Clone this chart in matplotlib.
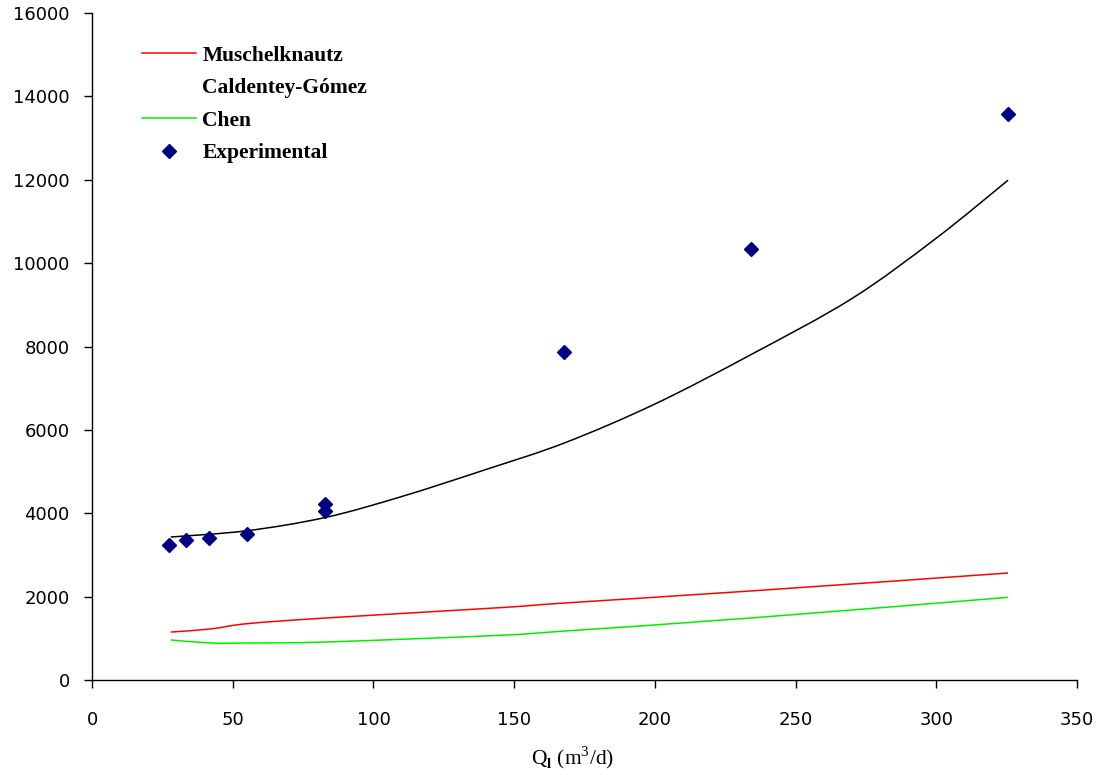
import numpy as np
import matplotlib
matplotlib.use("Agg")
import matplotlib.pyplot as plt
from matplotlib.path import Path
from matplotlib.patches import PathPatch
from matplotlib.lines import Line2D

plt.rcParams["mathtext.fontset"] = "custom"
plt.rcParams["mathtext.rm"] = "Liberation Serif"
plt.rcParams["mathtext.bf"] = "Liberation Serif:bold"

# Experimental data
q_exp = [27.4, 33.4, 41.6, 55.1, 82.8, 82.8, 167.7, 234.2, 325.5]
dp_exp = [3230, 3360, 3400, 3500, 4220, 4060, 7870, 10340, 13580]

# Caldentey-Gómez model
q_cg = [28, 55, 83, 110, 140, 168, 200, 234, 270, 300, 325.5]
dp_cg = [3430, 3580, 3900, 4400, 5050, 5690, 6620, 7800, 9150, 10600, 11990]

# Muschelknautz model
q_mu = [28, 42, 55, 83, 145, 168, 234, 325.5]
dp_mu = [1150, 1223, 1350, 1487, 1735, 1847, 2135, 2566]

# Chen model
q_ch = [28, 42, 55, 83, 145, 168, 234, 325.5]
dp_ch = [960, 888, 888, 911, 1072, 1175, 1487, 1983]


def smooth_path(x, y):
    x = np.asarray(x, float); y = np.asarray(y, float)
    pts = np.column_stack([x, y])
    verts = [pts[0]]
    codes = [Path.MOVETO]
    n = len(pts)
    for i in range(n - 1):
        p0 = pts[i - 1] if i > 0 else pts[i]
        p1 = pts[i]
        p2 = pts[i + 1]
        p3 = pts[i + 2] if i + 2 < n else pts[i + 1]
        c1 = p1 + (p2 - p0) / 6.0
        c2 = p2 - (p3 - p1) / 6.0
        verts += [c1, c2, p2]
        codes += [Path.CURVE4] * 3
    return Path(verts, codes)


fig = plt.figure(figsize=(11.06, 7.75), dpi=100)
ax = fig.add_axes([0.0832, 0.1226, 0.8906, 0.8606])

for qx, dy, col in [(q_mu, dp_mu, "#ff0000"), (q_cg, dp_cg, "#000000"), (q_ch, dp_ch, "#00ee00")]:
    ax.add_patch(PathPatch(smooth_path(qx, dy), facecolor="none", edgecolor=col, lw=1.1))

ax.plot(q_exp, dp_exp, linestyle="none", marker="D", markersize=7.5,
        color="#000080", markeredgecolor="#000080")

ax.set_xlim(0, 350)
ax.set_ylim(0, 16000)
ax.set_xticks(np.arange(0, 351, 50))
ax.set_yticks(np.arange(0, 16001, 2000))
for s in ["top", "right"]:
    ax.spines[s].set_visible(False)
for s in ["left", "bottom"]:
    ax.spines[s].set_linewidth(1.0)
ax.tick_params(direction="out", length=6, width=1, labelsize=13)
ax.tick_params(axis="y", pad=10)
ax.tick_params(axis="x", pad=16)
for lab in ax.get_xticklabels() + ax.get_yticklabels():
    lab.set_fontfamily("DejaVu Sans")

fig.text(573 / 1106, 1 - 758 / 775, "Q$_\\mathbf{l}$ (m$^\\mathrm{3}$/d)",
         fontfamily="Liberation Serif", fontsize=15.5, ha="center", va="center")

handles = [
    Line2D([], [], color="#ff0000", lw=1.1),
    Line2D([], [], color="white", lw=1.1),
    Line2D([], [], color="#00ee00", lw=1.1),
    Line2D([], [], color="#000080", marker="D", markersize=7.5, linestyle="none"),
]
labels = ["Muschelknautz", "Caldentey-Gómez", "Chen", "Experimental"]
ax.legend(handles, labels, loc="upper left", bbox_to_anchor=(0.0508, 0.951), frameon=False,
          prop={"family": "Liberation Serif", "weight": "bold", "size": 15.5},
          handlelength=2.5, handletextpad=0.3, labelspacing=0.58,
          borderpad=0, borderaxespad=0)

fig.savefig("out.png", dpi=100)
